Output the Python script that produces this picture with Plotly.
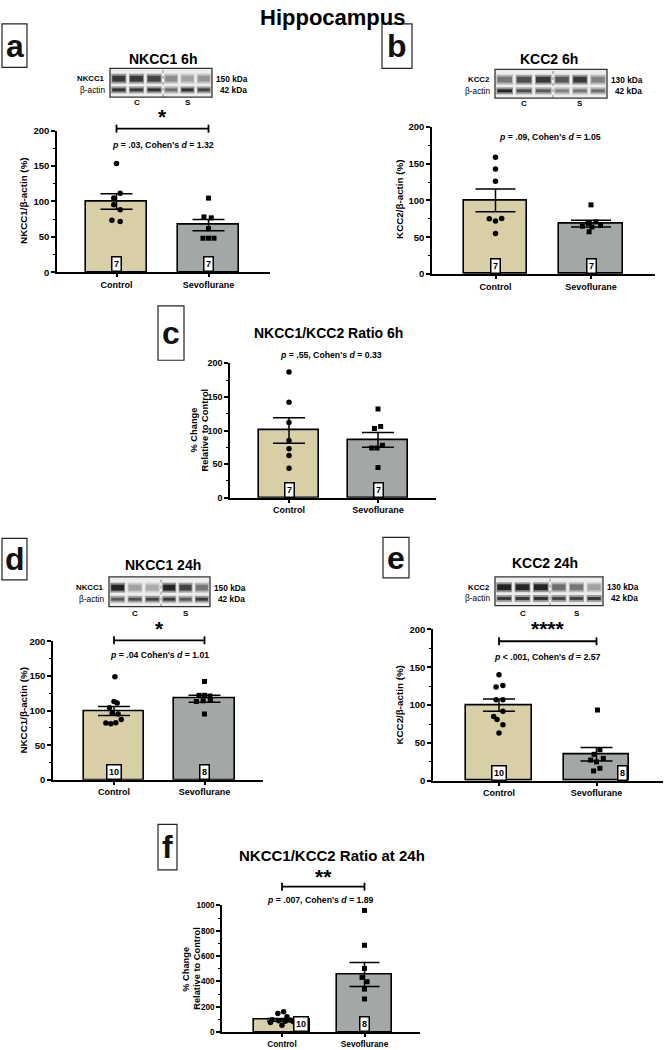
import plotly.graph_objects as go

W, H = 665, 1050
FONT = "Liberation Sans, Arial, Helvetica, sans-serif"

# ------------------------------------------------------------------ DATA
categories = ["Control", "Sevoflurane"]

# (a) NKCC1 6h
a_mean = [100, 66.5]
a_sem = [11, 8]
a_ctrl = [153.5, 111.6, 104.7, 95.3, 88.4, 73.5, 71.6]
a_sevo = [104.7, 78.1, 76.8, 61.4, 48.0, 48.0, 48.0]
a_n = [7, 7]
a_stat = "<i>p</i> = .03, Cohen's <i>d</i> = 1.32"
a_star = "*"

# (b) KCC2 6h
b_mean = [100, 68.5]
b_sem = [15.5, 4.5]
b_ctrl = [158.6, 142.8, 126.0, 75.0, 72.0, 75.5, 55.0]
b_sevo = [94.0, 71.0, 69.0, 66.0, 65.0, 64.0, 57.5]
b_n = [7, 7]
b_stat = "<i>p</i> = .09, Cohen's <i>d</i> = 1.05"

# (c) NKCC1/KCC2 ratio 6h
c_mean = [100, 86]
c_sem = [19, 11]
c_ctrl = [187, 142, 112, 85, 73, 63, 44]
c_sevo = [132, 106, 103, 78, 74, 74, 45]
c_n = [7, 7]
c_stat = "<i>p</i> = .55, Cohen's <i>d</i> = 0.33"

# (d) NKCC1 24h
d_mean = [99.5, 117]
d_sem = [6.5, 5]
d_ctrl = [148.6, 112.9, 111.0, 104.0, 96.0, 95.0, 87.0, 82.0, 81.0, 82.5]
d_sevo = [142, 122, 122, 121, 116, 114, 113, 95]
d_n = [10, 8]
d_stat = "<i>p</i> = .04 Cohen's <i>d</i> = 1.01"
d_star = "*"

# (e) KCC2 24h
e_mean = [100, 35]
e_sem = [8, 9]
e_ctrl = [140, 126, 124, 107, 107, 92, 85, 81, 74, 63]
e_sevo = [93.5, 41, 35, 29.6, 27.4, 25, 16.5, 13]
e_n = [10, 8]
e_stat = "<i>p</i> &lt; .001, Cohen's <i>d</i> = 2.57"
e_star = "****"

# (f) NKCC1/KCC2 ratio 24h
f_mean = [97, 455]
f_sem = [11, 94]
f_ctrl = [160, 147, 122, 98, 94, 90, 86, 82, 76, 55]
f_sevo = [961, 686, 503, 432, 398, 340, 262, 58]
f_n = [10, 8]
f_stat = "<i>p</i> = .007, Cohen's <i>d</i> = 1.89"
f_star = "**"

# horizontal spread of the dots inside each column (category units)
a_ctrl_jit = [0, 0.04, -0.03, -0.03, 0.04, -0.05, 0.04]
a_sevo_jit = [0, -0.05, 0.03, 0.0, -0.06, 0.0, 0.06]
b_ctrl_jit = [0, 0, 0, -0.065, 0.0, 0.065, 0]
b_sevo_jit = [0, 0.05, -0.03, 0.1, -0.09, 0.01, -0.02]
c_ctrl_jit = [0, 0, 0, 0, 0, 0, 0]
c_sevo_jit = [0, 0.03, -0.04, 0.05, -0.07, -0.01, 0]
d_ctrl_jit = [0.01, 0, 0.035, -0.05, -0.02, 0.045, 0.08, -0.09, -0.035, 0.02]
d_sevo_jit = [0, -0.06, 0, 0.06, 0.065, -0.015, -0.09, 0]
e_ctrl_jit = [0, 0.04, -0.03, -0.03, 0.04, 0.04, -0.055, -0.02, 0.04, 0]
e_sevo_jit = [0.01, 0.035, -0.025, 0.07, -0.06, 0, 0.035, -0.03]
f_ctrl_jit = [0.02, -0.05, 0.06, -0.12, 0.1, -0.04, 0.04, 0.14, -0.14, 0]
f_sevo_jit = [0, 0, 0, -0.03, 0.03, 0, 0, 0]

# western blot band darkness (0 = blank, 1 = black): 3 control + 3 sevo lanes
a_blot_top = [0.85, 0.85, 0.8, 0.45, 0.35, 0.4]
a_blot_bot = [0.9, 0.85, 0.9, 0.6, 0.9, 0.8]
b_blot_top = [0.55, 0.75, 0.85, 0.7, 0.85, 0.5]
b_blot_bot = [0.95, 0.75, 0.7, 0.5, 0.55, 0.6]
d_blot_top = [0.95, 0.35, 0.3, 0.95, 0.8, 0.55]
d_blot_bot = [0.7, 0.75, 0.8, 0.85, 0.7, 0.85]
e_blot_top = [0.95, 0.95, 0.95, 0.6, 0.55, 0.35]
e_blot_bot = [0.85, 0.85, 0.9, 0.8, 0.8, 0.85]

# ------------------------------------------------------------------ STYLE / LAYOUT
TAN = "#d9cfa7"
GRAY = "#a4a7a7"


def P(x, y):
    return x / W, 1 - y / H


panels = [
    dict(key="a", x=(57, 270), y=(126, 269), c=116.5, s=92, ymax=200, dt=50, mdt=25,
         mean=a_mean, sem=a_sem, ctrl=a_ctrl, sevo=a_sevo, cj=a_ctrl_jit, sj=a_sevo_jit,
         n=a_n, stat=a_stat, stat_xy=(163, 140), cap=16, nbox=("c", "c"), xfs=9, yfs=9.5),
    dict(key="b", x=(432, 655), y=(122, 271), c=495.5, s=95.5, ymax=200, dt=50, mdt=25,
         mean=b_mean, sem=b_sem, ctrl=b_ctrl, sevo=b_sevo, cj=b_ctrl_jit, sj=b_sevo_jit,
         n=b_n, stat=b_stat, stat_xy=(550, 132), cap=20, nbox=("c", "c"), xfs=9, yfs=9.5),
    dict(key="c", x=(230, 436), y=(361, 497), c=289, s=89, ymax=200, dt=50, mdt=25,
         mean=c_mean, sem=c_sem, ctrl=c_ctrl, sevo=c_sevo, cj=c_ctrl_jit, sj=c_sevo_jit,
         n=c_n, stat=c_stat, stat_xy=(331, 353), cap=16, nbox=("c", "c"), xfs=9, yfs=9),
    dict(key="d", x=(53, 263), y=(642, 782), c=114, s=90.5, ymax=200, dt=50, mdt=25,
         mean=d_mean, sem=d_sem, ctrl=d_ctrl, sevo=d_sevo, cj=d_ctrl_jit, sj=d_sevo_jit,
         n=d_n, stat=d_stat, stat_xy=(159, 656), cap=16, nbox=("c", "c"), xfs=9, yfs=9.5),
    dict(key="e", x=(433, 663), y=(630, 783), c=499, s=97.5, ymax=200, dt=50, mdt=25,
         mean=e_mean, sem=e_sem, ctrl=e_ctrl, sevo=e_sevo, cj=e_ctrl_jit, sj=e_sevo_jit,
         n=e_n, stat=e_stat, stat_xy=(547, 658), cap=16, nbox=("c", "r"), xfs=9, yfs=9.5),
    dict(key="f", x=(222, 420), y=(909, 1037), c=282, s=82.5, ymax=1000, dt=200, mdt=100,
         mean=f_mean, sem=f_sem, ctrl=f_ctrl, sevo=f_sevo, cj=f_ctrl_jit, sj=f_sevo_jit,
         n=f_n, stat=f_stat, stat_xy=(320, 903), cap=15, nbox=("r", "c"), xfs=8.3, yfs=8.2),
]

BARW = 0.67

fig = go.Figure()
annotations = []
shapes = []
layout_axes = {}

for i, p in enumerate(panels, start=1):
    xa = "x" if i == 1 else f"x{i}"
    ya = "y" if i == 1 else f"y{i}"
    xk = "xaxis" if i == 1 else f"xaxis{i}"
    yk = "yaxis" if i == 1 else f"yaxis{i}"
    x0, x1 = p["x"]
    yt, yb = p["y"]
    xr = [(x0 - p["c"]) / p["s"], (x1 - p["c"]) / p["s"]]
    layout_axes[xk] = dict(
        domain=[x0 / W, x1 / W], anchor=ya, range=xr, showgrid=False, zeroline=False,
        showline=True, linecolor="black", linewidth=1.5, ticks="outside", ticklen=3,
        tickwidth=1.5, tickcolor="black", tickvals=[0, 1], ticktext=categories,
        tickfont=dict(family=FONT, size=p["xfs"], color="black", weight="bold"), fixedrange=True)
    layout_axes[yk] = dict(
        domain=[1 - yb / H, 1 - yt / H], anchor=xa, range=[0, p["ymax"]], dtick=p["dt"],
        showgrid=False, zeroline=False, showline=True, linecolor="black", linewidth=1.5,
        ticks="outside", ticklen=4, tickwidth=1.5, tickcolor="black",
        minor=dict(dtick=p["mdt"], ticks="outside", ticklen=2.5, tickwidth=1, tickcolor="black",
                   showgrid=False),
        tickfont=dict(family=FONT, size=p["yfs"], color="black", weight="bold"), fixedrange=True)

    fig.add_trace(go.Bar(
        x=[0, 1], y=p["mean"], width=BARW, xaxis=xa, yaxis=ya,
        marker=dict(color=[TAN, GRAY], line=dict(color="black", width=1.6)),
        error_y=dict(type="data", array=p["sem"], visible=True, color="black",
                     thickness=1.5, width=p["cap"])))
    fig.add_trace(go.Scatter(
        x=[0 + j for j in p["cj"]], y=p["ctrl"], mode="markers", xaxis=xa, yaxis=ya,
        marker=dict(symbol="circle", size=5.5, color="black"), cliponaxis=False))
    fig.add_trace(go.Scatter(
        x=[1 + j for j in p["sj"]], y=p["sevo"], mode="markers", xaxis=xa, yaxis=ya,
        marker=dict(symbol="square", size=5, color="black"), cliponaxis=False))

    # n boxes
    for k in range(2):
        mode = p["nbox"][k]
        base = dict(y=0, xref=xa, yref=ya, yanchor="bottom",
                    text=f"<b>{p['n'][k]}</b>", showarrow=False, bgcolor="white",
                    bordercolor="black", borderwidth=1.5, borderpad=1.5,
                    font=dict(family=FONT, size=9, color="black"))
        if mode == "c":
            base.update(x=k, xanchor="center")
        else:
            base.update(x=k + BARW / 2, xanchor="right", xshift=-1)
        annotations.append(base)

    # statistics text
    sx, sy = P(*p["stat_xy"])
    annotations.append(dict(
        x=sx, y=sy, xref="paper", yref="paper", text=f"<b>{p['stat']}</b>", showarrow=False,
        xanchor="center", yanchor="middle", font=dict(family=FONT, size=8.7, color="black")))

# ---------------- significance brackets
brackets = [  # panel index, bracket y px, star text, star y px
    (1, 124, a_star, 111),
    (4, 641, d_star, 628),
    (5, 642, e_star, 628),
    (6, 890, f_star, 879),
]
for idx, by, star, sy in brackets:
    xa = "x" if idx == 1 else f"x{idx}"
    shapes.append(dict(type="line", xref=xa, yref="paper", x0=0, x1=1,
                       y0=1 - by / H, y1=1 - by / H, line=dict(color="black", width=1.8)))
    for xx in (0, 1):
        shapes.append(dict(type="line", xref=xa, yref="paper", x0=xx, x1=xx,
                           y0=1 - (by - 4) / H, y1=1 - (by + 4) / H,
                           line=dict(color="black", width=1.8)))
    annotations.append(dict(x=0.5, y=1 - (sy + 1) / H, xref=xa, yref="paper", text=f"<b>{star}</b>",
                            showarrow=False, xanchor="center", yanchor="middle",
                            font=dict(family=FONT, size=21, color="black")))

# ---------------- titles
annotations.append(dict(x=332 / W, y=1 - 12 / H, xref="paper", yref="paper",
                        text="<b>Hippocampus</b>", showarrow=False, xanchor="center",
                        yanchor="middle", font=dict(family=FONT, size=22, color="black")))
panel_titles = [
    ("NKCC1 6h", 163, 54, 14),
    ("KCC2 6h", 549, 54, 14),
    ("NKCC1/KCC2 Ratio 6h", 328, 330, 14),
    ("NKCC1 24h", 163, 565, 14),
    ("KCC2 24h", 545, 563, 14),
    ("NKCC1/KCC2 Ratio at 24h", 332, 858, 15),
]
for t, x, y, s in panel_titles:
    annotations.append(dict(x=x / W, y=1 - y / H, xref="paper", yref="paper", text=f"<b>{t}</b>",
                            showarrow=False, xanchor="center", yanchor="middle",
                            font=dict(family=FONT, size=s, color="black")))

# ---------------- y-axis titles (one annotation per line)
ytitles = [
    ("NKCC1/β-actin (%)", 24, 197, 9.8),
    ("KCC2/β-actin (%)", 400, 196, 9.8),
    ("% Change", 194, 429, 9.3),
    ("Relative to Control", 205, 429, 9.3),
    ("NKCC1/β-actin (%)", 24, 712, 9.8),
    ("KCC2/β-actin (%)", 400, 707, 9.8),
    ("% Change", 186, 973, 9.3),
    ("Relative to Control", 197, 973, 9.3),
]
for t, x, y, s in ytitles:
    annotations.append(dict(x=x / W, y=1 - y / H, xref="paper", yref="paper", text=f"<b>{t}</b>",
                            showarrow=False, xanchor="center", yanchor="middle", textangle=-90,
                            font=dict(family=FONT, size=s, color="black")))

# ---------------- panel letters
letters = [
    ("a", 2, 18, 27, 62),
    ("b", 382, 18, 412, 63),
    ("c", 158, 303, 184, 358),
    ("d", 2, 538, 27, 580),
    ("e", 383, 537, 409, 578),
    ("f", 158, 827, 177, 873),
]
for L, lx0, ly0, lx1, ly1 in letters:
    shapes.append(dict(type="rect", xref="paper", yref="paper", x0=lx0 / W, x1=lx1 / W,
                       y0=1 - ly1 / H, y1=1 - ly0 / H, line=dict(color="#222", width=1.2),
                       fillcolor="white"))
    annotations.append(dict(x=(lx0 + lx1) / 2 / W, y=1 - (ly0 + ly1) / 2 / H, xref="paper",
                            yref="paper", text=f"<b>{L}</b>", showarrow=False, xanchor="center",
                            yanchor="middle", font=dict(family=FONT, size=32, color="#111")))

# ---------------- western blots
blots = [
    # x0, x1, y0, y1, divider, top label, kDa top, intensities, C/S label y
    (110, 212, 63, 92, 163, "NKCC1", "150 kDa", a_blot_top, a_blot_bot, 98),
    (495, 607, 64, 93, 553, "KCC2", "130 kDa", b_blot_top, b_blot_bot, 99),
    (109, 210, 577, 607, 161, "NKCC1", "150 kDa", d_blot_top, d_blot_bot, 614),
    (495, 603, 577, 606, 550, "KCC2", "130 kDa", e_blot_top, e_blot_bot, 614),
]


def gray(v, lighten=0.0):
    g = int(round(235 - (235 - 25) * v * (1 - lighten)))
    return f"rgb({g},{g},{g})"


for bx0, bx1, by0, by1, div, lab, kda, top, bot, lab_y in blots:
    shapes.append(dict(type="rect", xref="paper", yref="paper", x0=bx0 / W, x1=bx1 / W,
                       y0=1 - by1 / H, y1=1 - by0 / H, line=dict(width=0),
                       fillcolor="#ededed", layer="above"))
    hgt = by1 - by0
    ty = by0 + 0.36 * hgt
    bty = by0 + 0.75 * hgt
    for side in range(2):
        sx0 = bx0 if side == 0 else div
        sx1 = div if side == 0 else bx1
        lw = (sx1 - sx0) / 3
        for ln in range(3):
            v_top = top[side * 3 + ln]
            v_bot = bot[side * 3 + ln]
            cx = sx0 + lw * (ln + 0.5)
            bw = lw * 0.86
            for (cy, v, hh) in ((ty, v_top, 7.0), (bty, v_bot, 4.0)):
                shapes.append(dict(type="rect", xref="paper", yref="paper",
                                   x0=(cx - bw / 2) / W, x1=(cx + bw / 2) / W,
                                   y0=1 - (cy + hh / 2 + 1.5) / H, y1=1 - (cy - hh / 2 - 1.5) / H,
                                   line=dict(width=0), fillcolor=gray(v, 0.55), layer="above"))
                shapes.append(dict(type="rect", xref="paper", yref="paper",
                                   x0=(cx - bw / 2 + 1) / W, x1=(cx + bw / 2 - 1) / W,
                                   y0=1 - (cy + hh / 2 - 0.5) / H, y1=1 - (cy - hh / 2 + 0.5) / H,
                                   line=dict(width=0), fillcolor=gray(v), layer="above"))
    shapes.append(dict(type="line", xref="paper", yref="paper", x0=div / W, x1=div / W,
                       y0=1 - by1 / H, y1=1 - by0 / H,
                       line=dict(color="#888", width=1, dash="dot"), layer="above"))
    shapes.append(dict(type="rect", xref="paper", yref="paper", x0=bx0 / W, x1=bx1 / W,
                       y0=1 - by1 / H, y1=1 - by0 / H, line=dict(color="#333", width=1.3),
                       fillcolor="rgba(0,0,0,0)", layer="above"))
    annotations.append(dict(x=(bx0 - 3) / W, y=1 - ty / H, xref="paper", yref="paper",
                            text=f"<b>{lab}</b>", showarrow=False, xanchor="right",
                            yanchor="middle", font=dict(family=FONT, size=7.8, color="black")))
    annotations.append(dict(x=(bx0 - 3) / W, y=1 - bty / H, xref="paper", yref="paper",
                            text="β-actin", showarrow=False, xanchor="right",
                            yanchor="middle", font=dict(family=FONT, size=8.3, color="black")))
    annotations.append(dict(x=(bx1 + 2) / W, y=1 - ty / H, xref="paper", yref="paper",
                            text=f"<b>{kda}</b>", showarrow=False, xanchor="left",
                            yanchor="middle", font=dict(family=FONT, size=8.3, color="black")))
    annotations.append(dict(x=(bx1 + 6) / W, y=1 - bty / H, xref="paper", yref="paper",
                            text="<b>42 kDa</b>", showarrow=False, xanchor="left",
                            yanchor="middle", font=dict(family=FONT, size=8.3, color="black")))
    annotations.append(dict(x=(bx0 + div) / 2 / W, y=1 - lab_y / H, xref="paper", yref="paper",
                            text="<b>C</b>", showarrow=False, xanchor="center",
                            yanchor="middle", font=dict(family=FONT, size=8, color="black")))
    annotations.append(dict(x=(div + bx1) / 2 / W, y=1 - lab_y / H, xref="paper", yref="paper",
                            text="<b>S</b>", showarrow=False, xanchor="center",
                            yanchor="middle", font=dict(family=FONT, size=8, color="black")))

fig.update_layout(
    width=W, height=H, margin=dict(l=0, r=0, t=0, b=0),
    paper_bgcolor="white", plot_bgcolor="white", showlegend=False,
    font=dict(family=FONT, color="black"),
    annotations=annotations, shapes=shapes, bargap=0,
    **layout_axes,
)

fig.write_html(
    "out.html",
    config={"displayModeBar": False},
    post_script="document.body.style.margin='0';document.body.style.overflow='hidden';"
                "document.documentElement.style.overflow='hidden';",
)
